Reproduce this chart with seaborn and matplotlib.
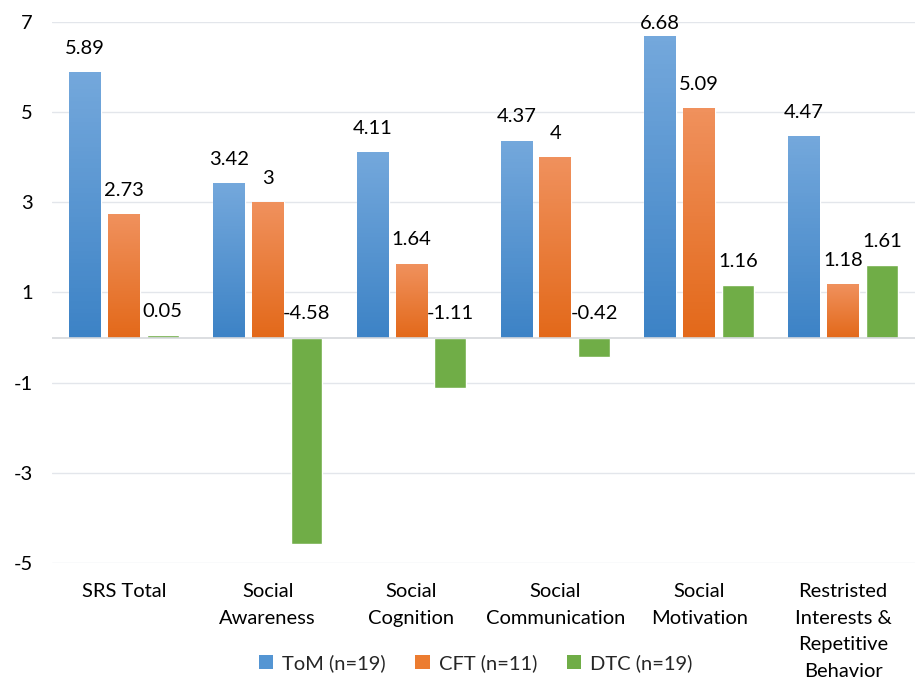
import numpy as np
import pandas as pd
import matplotlib
matplotlib.use("Agg")
import matplotlib.pyplot as plt
import matplotlib.colors as mcolors
import matplotlib.transforms as mtransforms
from matplotlib.patches import Patch
import seaborn as sns

categories = ["SRS Total", "Social\nAwareness", "Social\nCognition",
              "Social\nCommunication", "Social\nMotivation",
              "Restristed\nInterests &\nRepetitive\nBehavior"]
groups = ["ToM (n=19)", "CFT (n=11)", "DTC (n=19)"]
tom = [5.89, 3.42, 4.11, 4.37, 6.68, 4.47]
cft = [2.73, 3.00, 1.64, 4.00, 5.09, 1.18]
dtc = [0.05, -4.58, -1.11, -0.42, 1.16, 1.61]
yticks = [7, 5, 3, 1, -1, -3, -5]

df = pd.DataFrame({
    "category": categories * 3,
    "group": [groups[0]] * 6 + [groups[1]] * 6 + [groups[2]] * 6,
    "value": tom + cft + dtc,
})

base_colors = ["#5495d3", "#ec7c30", "#70ad47"]
# top / bottom shades for the vertical gradient on each series
grad = [("#74a8dc", "#3d83c6"), ("#f0915d", "#e3691a"), None]

FS = 14.5

sns.set_theme(style="white")
plt.rcParams["font.family"] = ["Lato", "DejaVu Sans"]

fig = plt.figure(figsize=(9.2, 6.83), dpi=100)
ax = fig.add_axes([0.0565, 0.1757, 0.938, 0.7921])

sns.barplot(data=df, x="category", y="value", hue="group", order=categories,
            hue_order=groups, palette=base_colors, width=0.81, gap=0.18,
            saturation=1, legend=False, ax=ax)

ax.set_ylim(-5, 7)
ax.set_xlim(-0.5, len(categories) - 0.5)
ax.set_yticks(yticks)
ax.set_yticklabels([str(t) for t in yticks])
ax.grid(axis="y", color="#e3e6eb", linewidth=1)
ax.grid(axis="x", visible=False)
ax.set_axisbelow(True)
ax.axhline(0, color="#d5d8dc", linewidth=1.2, zorder=1.5)
for s in ax.spines.values():
    s.set_visible(False)
ax.tick_params(axis="both", length=0, labelsize=FS, colors="black")
ax.tick_params(axis="y", pad=14)
ax.tick_params(axis="x", labelbottom=False)
ax.set_xlabel("")
ax.set_ylabel("")

# multi-line category labels under each group
lbl_tf = mtransforms.blended_transform_factory(ax.transData, ax.transAxes) + \
    mtransforms.ScaledTranslation(0, -14.5 / 72, fig.dpi_scale_trans)
for i, cat in enumerate(categories):
    ax.text(i, 0, cat, transform=lbl_tf, ha="center", va="top",
            fontsize=FS, linespacing=1.68, color="black", clip_on=False)

# gradient fill clipped to each bar, plus value labels
series = [tom, cft, dtc]
for gi, container in enumerate(ax.containers):
    for bar, v in zip(container.patches, series[gi]):
        x0, y0 = bar.get_x(), bar.get_y()
        w, h = bar.get_width(), bar.get_height()
        if grad[gi] is not None:
            top = np.array(mcolors.to_rgb(grad[gi][0]))
            bot = np.array(mcolors.to_rgb(grad[gi][1]))
            t = np.linspace(0, 1, 64)[:, None]
            img = (top * (1 - t) + bot * t)[:, None, :]
            ylo, yhi = min(y0, y0 + h), max(y0, y0 + h)
            im = ax.imshow(img, extent=[x0, x0 + w, ylo, yhi], aspect="auto",
                           origin="upper", zorder=bar.get_zorder() + 0.1)
            im.set_clip_path(bar)
        ty = min(max(v, 0) + 0.53, 6.97)
        txt = f"{v:g}"
        ax.text(x0 + w / 2, ty, txt, ha="center", va="center",
                fontsize=FS, color="black", clip_on=False, zorder=5)

ax.set_xlim(-0.5, len(categories) - 0.5)
ax.set_ylim(-5, 7)

handles = [Patch(facecolor=c, edgecolor="none") for c in base_colors]
fig.legend(handles, groups, loc="center", bbox_to_anchor=(0.517, 0.029),
           ncol=3, frameon=False, fontsize=FS, handlelength=0.7,
           handleheight=0.7, handletextpad=0.45, columnspacing=1.5)

fig.savefig("out.png", dpi=100)
